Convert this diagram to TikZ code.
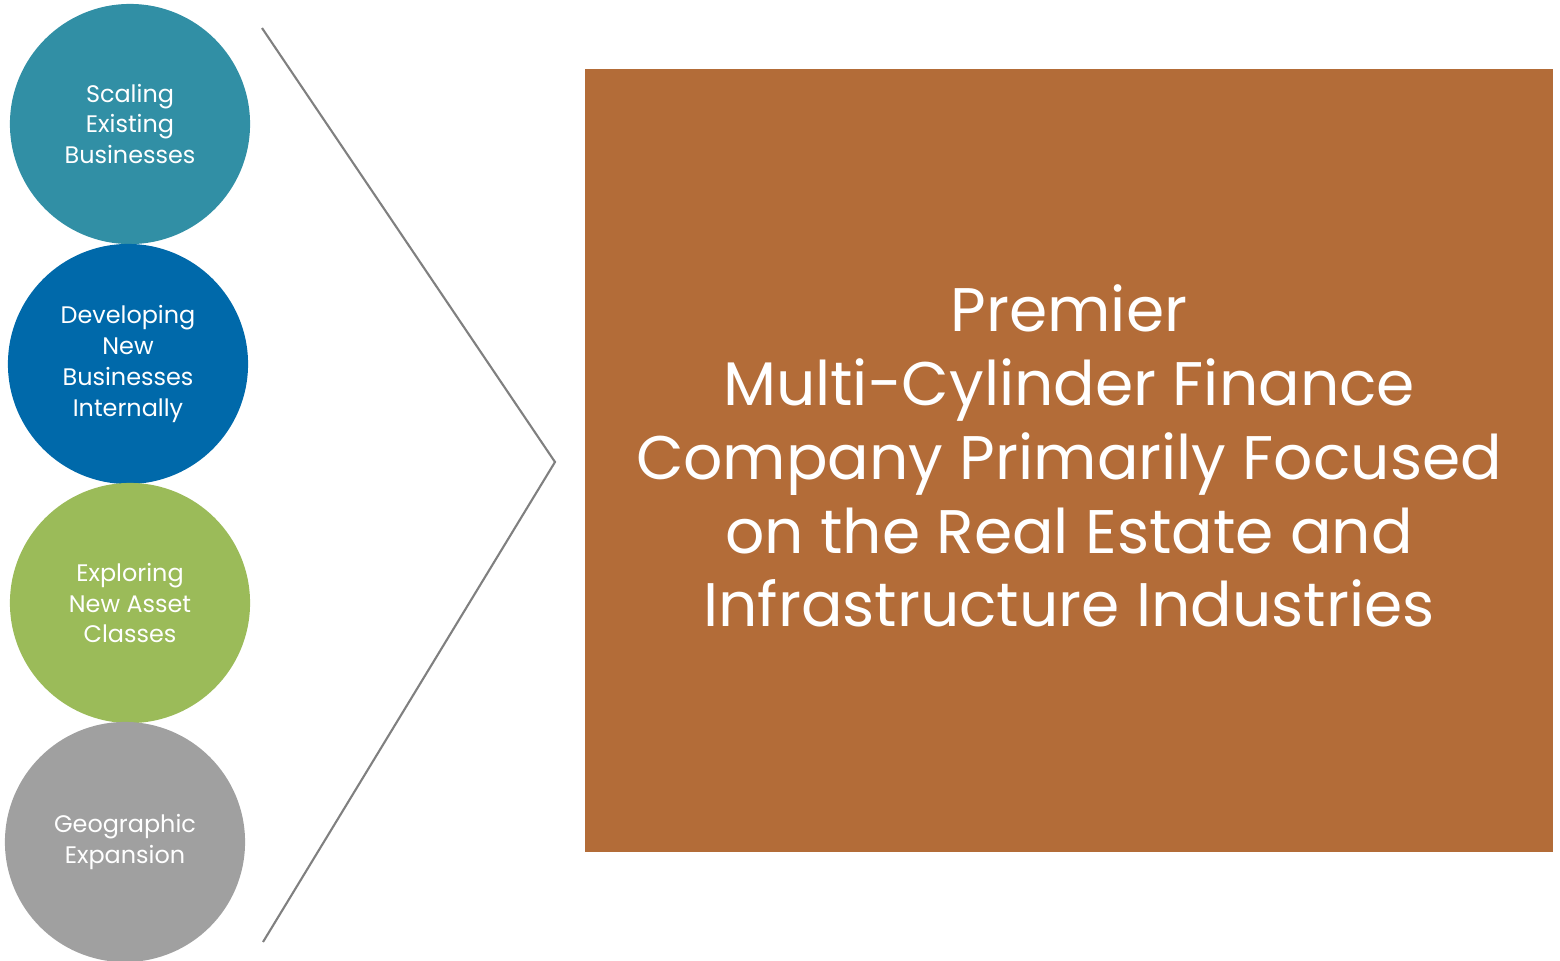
\documentclass[tikz,border=0pt]{standalone}
\usepackage{fontspec}
\setmainfont{Poppins}
\usetikzlibrary{positioning}
\definecolor{tealc}{HTML}{318FA5}
\definecolor{bluec}{HTML}{0069AA}
\definecolor{greenc}{HTML}{9BBB59}
\definecolor{grayc}{HTML}{A0A0A0}
\definecolor{brownc}{HTML}{B36C38}
\definecolor{linec}{HTML}{808080}
\tikzset{
  bubble/.style={circle, minimum size=2.4cm, inner sep=0pt, text=white, align=center,
    font=\fontsize{6.8}{8.8}\selectfont},
  bigbox/.style={rectangle, fill=brownc, minimum width=9.68cm, minimum height=7.83cm,
    inner sep=0pt, text=white, align=center, font=\fontsize{17.5}{21}\selectfont}
}
\begin{document}
\begin{tikzpicture}[x=0.01cm, y=-0.01cm]
      \useasboundingbox (0, 0) rectangle (1560, 960);
      \node [bubble, fill=tealc] (scale) at (130, 124) {Scaling\\Existing\\Businesses};
      \node [bubble, fill=bluec] (develop) at (128, 364) {Developing\\New\\Businesses\\Internally};
      \node [bubble, fill=greenc] (explore) at (130, 603) {Exploring\\New Asset\\Classes};
      \node [bubble, fill=grayc] (geo) at (125, 842) {Geographic\\Expansion};

      \node [bigbox] (premier) at (1069, 460.5) {};
      \node [text=white, align=center, font=\fontsize{17.5}{21}\selectfont] (premiertext) at (1069, 456)
        {Premier\\Multi-Cylinder Finance\\Company Primarily Focused\\on the Real Estate and\\Infrastructure Industries};

      % chevron
      \coordinate (top) at (262, 28); \coordinate (tip) at (555, 462); \coordinate (bottom) at (263, 942);
      \draw [linec, line width=0.6pt] (top) -- (tip) -- (bottom);
    \end{tikzpicture}
\end{document}
